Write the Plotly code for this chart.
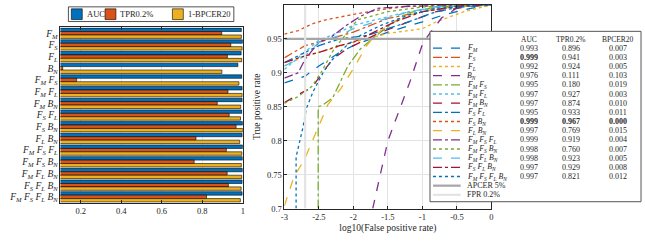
import plotly.graph_objects as go

# ---------------- data ----------------
categories = ["F_M", "F_S", "F_L", "B_N", "F_M F_S", "F_M F_L", "F_M B_N", "F_S F_L",
              "F_S B_N", "F_L B_N", "F_M F_S F_L", "F_M F_S B_N", "F_M F_L B_N",
              "F_S F_L B_N", "F_M F_S F_L B_N"]
auc = [0.993, 0.999, 0.992, 0.976, 0.995, 0.997, 0.997, 0.995, 0.999, 0.997, 0.999, 0.998, 0.998, 0.997, 0.997]
tpr02 = [0.896, 0.941, 0.924, 0.111, 0.180, 0.927, 0.874, 0.933, 0.967, 0.769, 0.919, 0.760, 0.923, 0.929, 0.821]
bpcer20 = [0.007, 0.003, 0.005, 0.103, 0.019, 0.003, 0.010, 0.011, 0.000, 0.015, 0.004, 0.007, 0.005, 0.008, 0.012]
one_minus_bpcer20 = [round(1 - b, 3) for b in bpcer20]
bold_auc = [False, True, False, False, False, False, False, False, True, False, False, False, False, False, False]
bold_tpr = [False] * 8 + [True] + [False] * 6
bold_bpcer = [False] * 8 + [True] + [False] * 6
series_names = ["AUC", "TPR0.2%", "1-BPCER20"]

# ROC curves: (log10 FPR, TPR)
roc_logfpr = [
    [-3, -2.7, -2.5, -2.2, -2.0, -1.5, -1.0, -0.7, -0.3, 0],
    [-3, -2.7, -2.5, -2.0, -1.5, -1.0, -0.5, 0],
    [-3, -2.7, -2.5, -2.0, -1.5, -1.0, -0.8, -0.4, 0],
    [-1.72, -1.5, -1.18, -0.99, -0.72, -0.6, -0.45, 0],
    [-2.51, -2.51, -2.45, -2.3, -2.08, -1.9, -1.68, -1.46, -1.22, -0.8, 0],
    [-3, -2.7, -2.5, -2.2, -2.0, -1.6, -1.2, -0.7, 0],
    [-3, -2.8, -2.6, -2.45, -2.3, -2.1, -1.9, -1.6, -1.2, -0.8, -0.3, 0],
    [-3, -2.7, -2.5, -2.2, -1.8, -1.5, -1.2, -0.8, -0.4, 0],
    [-3, -2.8, -2.6, -2.4, -2.0, -1.6, -1.2, 0],
    [-3, -2.86, -2.71, -2.51, -2.37, -2.18, -2.0, -1.82, -1.7, -1.5, -1.2, -0.8, 0],
    [-3, -2.8, -2.7, -2.5, -2.33, -2.1, -1.9, -1.65, -1.2, 0],
    [-3, -2.8, -2.6, -2.47, -2.28, -2.08, -1.94, -1.5, -1.0, 0],
    [-3, -2.7, -2.5, -2.2, -2.0, -1.6, -1.2, -0.8, 0],
    [-3, -2.7, -2.5, -2.2, -2.0, -1.7, -1.4, -1.0, -0.5, 0],
    [-2.83, -2.83, -2.73, -2.68, -2.58, -2.43, -2.3, -2.1, -1.9, -1.6, -1.2, -0.8, 0],
]
roc_tpr = [
    [0.885, 0.895, 0.91, 0.93, 0.94, 0.96, 0.975, 0.985, 0.995, 1],
    [0.922, 0.94, 0.945, 0.96, 0.98, 0.99, 0.997, 1],
    [0.91, 0.925, 0.93, 0.945, 0.958, 0.965, 0.975, 0.99, 1],
    [0.70, 0.80, 0.887, 0.945, 0.981, 0.988, 1.0, 1],
    [0.70, 0.85, 0.852, 0.863, 0.91, 0.935, 0.954, 0.971, 0.988, 0.997, 1],
    [0.905, 0.93, 0.948, 0.96, 0.97, 0.98, 0.99, 0.997, 1],
    [0.856, 0.868, 0.878, 0.90, 0.92, 0.935, 0.945, 0.96, 0.975, 0.99, 0.998, 1],
    [0.915, 0.93, 0.94, 0.95, 0.955, 0.965, 0.975, 0.99, 0.998, 1],
    [0.957, 0.962, 0.972, 0.978, 0.986, 0.993, 0.998, 1],
    [0.704, 0.747, 0.772, 0.82, 0.853, 0.877, 0.906, 0.938, 0.954, 0.97, 0.985, 0.995, 1],
    [0.892, 0.90, 0.92, 0.945, 0.952, 0.97, 0.983, 0.995, 0.998, 1],
    [0.855, 0.865, 0.88, 0.90, 0.935, 0.96, 0.978, 0.99, 0.997, 1],
    [0.91, 0.925, 0.945, 0.955, 0.965, 0.978, 0.99, 0.997, 1],
    [0.915, 0.925, 0.93, 0.94, 0.945, 0.96, 0.975, 0.99, 0.998, 1],
    [0.70, 0.776, 0.82, 0.848, 0.873, 0.902, 0.92, 0.94, 0.955, 0.97, 0.985, 0.995, 1],
]
apcer_tpr = 0.95
fpr_log = -2.69897  # log10(0.002)

x_ticks_roc = [-3, -2.5, -2, -1.5, -1, -0.5, 0]
x_ticklabels_roc = ["-3", "-2.5", "-2", "-1.5", "-1", "-0.5", "0"]
y_ticks_roc = [0.7, 0.75, 0.8, 0.85, 0.9, 0.95, 1]
y_ticklabels_roc = ["0.7", "0.75", "0.8", "0.85", "0.9", "0.95", "1"]
x_ticks_bar = [0.2, 0.4, 0.6, 0.8, 1]
x_ticklabels_bar = ["0.2", "0.4", "0.6", "0.8", "1"]

# ---------------- style ----------------
W, H = 645, 241
FONT = "Liberation Serif, DejaVu Serif, serif"
TXT = "#262626"
mat = ["#0072BD", "#D95319", "#EDB120", "#7E2F8E", "#77AC30", "#4DBEEE", "#A2142F"]
dashes = ["dash", "dashdot", "dot"]
bar_colors = ["#0072BD", "#D95319", "#EDB120"]


def label_html(c):
    parts = c.split()
    return " ".join("<i>%s</i><sub><i>%s</i></sub>" % (p[0], p[2]) for p in parts)


labels = [label_html(c) for c in categories]


def px_x(p):
    return p / W


def px_y(p):
    return 1 - p / H


fig = go.Figure()

# --- bar chart ---
for name, vals, col in zip(series_names, [auc, tpr02, one_minus_bpcer20], bar_colors):
    fig.add_trace(go.Bar(x=vals, y=labels, orientation="h", name=name,
                         marker=dict(color=col, line=dict(color="#000000", width=0.6)),
                         showlegend=False, xaxis="x", yaxis="y"))

# --- ROC curves ---
for i, c in enumerate(categories):
    fig.add_trace(go.Scatter(x=roc_logfpr[i], y=roc_tpr[i], mode="lines",
                             line=dict(color=mat[i % 7], dash=dashes[i % 3], width=1.3),
                             showlegend=False, xaxis="x2", yaxis="y2", hoverinfo="skip"))
fig.add_trace(go.Scatter(x=[-3, 0], y=[apcer_tpr, apcer_tpr], mode="lines",
                         line=dict(color="#a6a6a6", width=2.2), showlegend=False,
                         xaxis="x2", yaxis="y2"))
fig.add_trace(go.Scatter(x=[fpr_log, fpr_log], y=[0.7, 1], mode="lines",
                         line=dict(color="#e3e3e3", width=2.2), showlegend=False,
                         xaxis="x2", yaxis="y2"))

axis_common = dict(showline=True, linecolor="#262626", linewidth=0.8, mirror="ticks",
                   ticks="inside", ticklen=3, tickcolor="#262626",
                   tickfont=dict(family=FONT, size=8.5, color=TXT), zeroline=False)

fig.update_layout(
    width=W, height=H, margin=dict(l=0, r=0, t=0, b=0),
    paper_bgcolor="white", plot_bgcolor="white",
    barmode="group", bargap=0.12, bargroupgap=0,
    font=dict(family=FONT, size=8, color=TXT),
    showlegend=False, hovermode=False,
    xaxis=dict(domain=[px_x(57), px_x(241)], range=[0.1, 1], tickvals=x_ticks_bar,
               ticktext=x_ticklabels_bar, showgrid=True, gridcolor="#e6e6e6",
               anchor="y", **axis_common),
    yaxis=dict(domain=[px_y(207), px_y(28)], type="category", categoryarray=labels,
               tickmode="array", tickvals=labels, ticktext=labels,
               autorange="reversed", showgrid=False, anchor="x",
               showline=True, linecolor="#262626", linewidth=0.8, mirror=True,
               ticks="", tickfont=dict(family=FONT, size=9.5, color=TXT), zeroline=False),
    xaxis2=dict(domain=[px_x(283), px_x(492)], range=[-3, 0], tickvals=x_ticks_roc,
                ticktext=x_ticklabels_roc, showgrid=True, gridcolor="#e3e3e3",
                anchor="y2",
                title=dict(text="log10(False positive rate)", standoff=3,
                           font=dict(family=FONT, size=9.5, color=TXT)),
                **axis_common),
    yaxis2=dict(domain=[px_y(213), px_y(5)], range=[0.7, 1], tickvals=y_ticks_roc,
                ticktext=y_ticklabels_roc, showgrid=True, gridcolor="#e3e3e3",
                anchor="x2",
                title=dict(text="True positive rate", standoff=4,
                           font=dict(family=FONT, size=9.5, color=TXT)),
                **axis_common),
)

shapes = []
annotations = []

# --- bar legend (manual) ---
shapes.append(dict(type="rect", xref="paper", yref="paper", x0=px_x(65), x1=px_x(232),
                   y0=px_y(22), y1=px_y(7), fillcolor="white",
                   line=dict(color="#262626", width=0.8)))
leg_sq_x = [68, 102, 170]
for name, col, sx in zip(series_names, bar_colors, leg_sq_x):
    shapes.append(dict(type="rect", xref="paper", yref="paper", x0=px_x(sx), x1=px_x(sx + 11),
                       y0=px_y(20), y1=px_y(9), fillcolor=col,
                       line=dict(color="#000000", width=0.6)))
    annotations.append(dict(xref="paper", yref="paper", x=px_x(sx + 13.5), y=px_y(14.5), text=name,
                            showarrow=False, xanchor="left", yanchor="middle",
                            font=dict(family=FONT, size=8.5, color=TXT)))

# --- ROC legend table ---
shapes.append(dict(type="rect", xref="paper", yref="paper", x0=px_x(430), x1=px_x(643),
                   y0=px_y(206), y1=px_y(32), fillcolor="white",
                   line=dict(color="#555555", width=1), layer="above"))
row0, step = 49.2, 9.36
col_auc, col_tpr, col_bp = 530, 572, 620
for hdr, cx in [("AUC", col_auc), ("TPR0.2%", col_tpr), ("BPCER20", col_bp)]:
    annotations.append(dict(xref="paper", yref="paper", x=px_x(cx), y=px_y(40), text=hdr,
                            showarrow=False, xanchor="center", yanchor="middle",
                            font=dict(family=FONT, size=7.5, color=TXT)))


def fmt(v, b):
    s = "%.3f" % v
    return "<b>%s</b>" % s if b else s


for i, c in enumerate(categories):
    ry = row0 + i * step
    shapes.append(dict(type="line", xref="paper", yref="paper", x0=px_x(433), x1=px_x(461),
                       y0=px_y(ry), y1=px_y(ry), layer="above",
                       line=dict(color=mat[i % 7], dash=dashes[i % 3], width=1.3)))
    annotations.append(dict(xref="paper", yref="paper", x=px_x(465), y=px_y(ry), text=labels[i],
                            showarrow=False, xanchor="left", yanchor="middle",
                            font=dict(family=FONT, size=7.8, color=TXT)))
    for v, b, cx in [(auc[i], bold_auc[i], col_auc), (tpr02[i], bold_tpr[i], col_tpr),
                     (bpcer20[i], bold_bpcer[i], col_bp)]:
        annotations.append(dict(xref="paper", yref="paper", x=px_x(cx), y=px_y(ry),
                                text=fmt(v, b), showarrow=False, xanchor="center",
                                yanchor="middle", font=dict(family=FONT, size=8, color=TXT)))
for j, (nm, col) in enumerate([("APCER 5%", "#a6a6a6"), ("FPR 0.2%", "#e3e3e3")]):
    ry = row0 + (15 + j) * step
    shapes.append(dict(type="line", xref="paper", yref="paper", x0=px_x(433), x1=px_x(461),
                       y0=px_y(ry), y1=px_y(ry), layer="above", line=dict(color=col, width=2.2)))
    annotations.append(dict(xref="paper", yref="paper", x=px_x(465), y=px_y(ry), text=nm,
                            showarrow=False, xanchor="left", yanchor="middle",
                            font=dict(family=FONT, size=8, color=TXT)))

fig.update_layout(shapes=shapes, annotations=annotations)
fig.write_html("out.html", config={"displayModeBar": False},
               post_script="document.body.style.margin='0px';")
